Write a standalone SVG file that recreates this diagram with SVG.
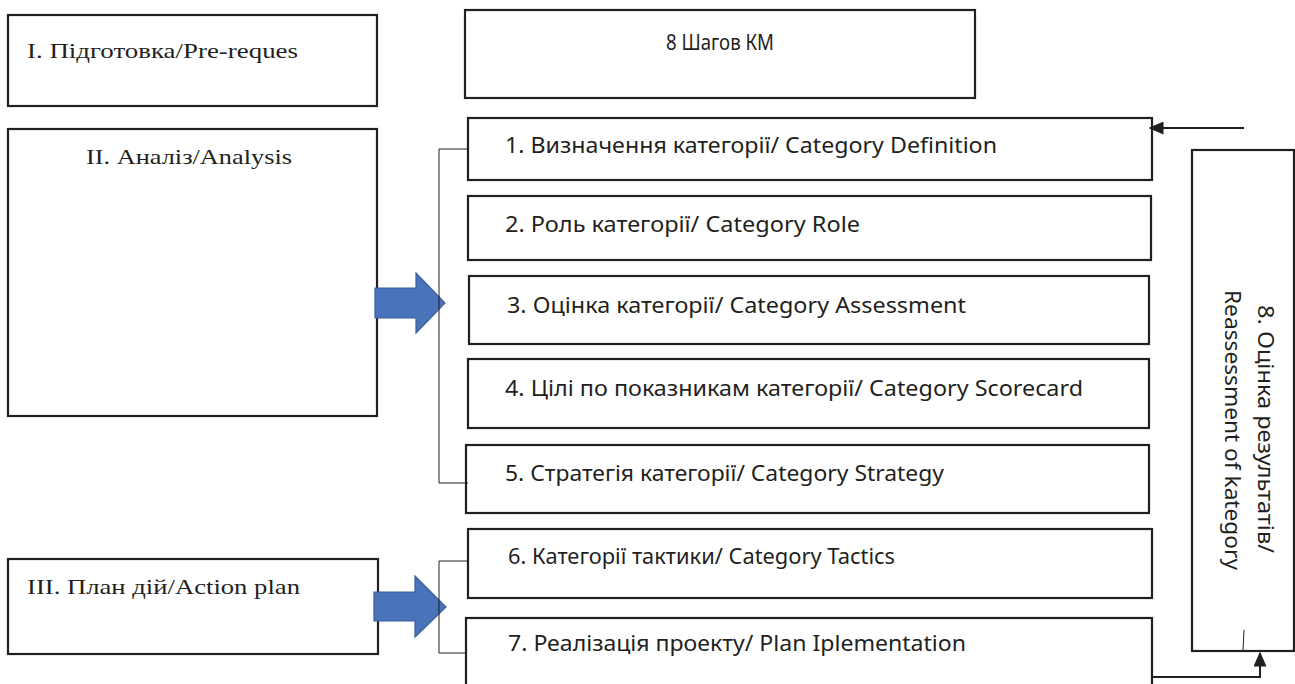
<svg xmlns="http://www.w3.org/2000/svg" width="1295" height="684" viewBox="0 0 1295 684">
<defs>
<style>
.box{fill:#fff;stroke:#231f20;stroke-width:2.2}
.serif{font-family:"Liberation Serif","Times New Roman",serif;font-size:22px;fill:#231f20}
.sans{font-family:"Noto Sans","Open Sans",sans-serif;font-size:21px;fill:#231f20}
.thin{fill:none;stroke:#231f20;stroke-width:1}
.conn{fill:none;stroke:#231f20;stroke-width:2}
.big{fill:#4a74ba;stroke:#3b5e9c;stroke-width:1.2}
</style>
<marker id="ah2" viewBox="0 0 10 10" refX="9" refY="5" markerWidth="15" markerHeight="13" markerUnits="userSpaceOnUse" orient="auto" preserveAspectRatio="none">
<path d="M0,0 L10,5 L0,10 z" fill="#231f20"/>
</marker>
</defs>
<rect width="1295" height="684" fill="#fff"/>

<g id="stage1">
<rect class="box" x="8" y="15" width="369" height="91"/>
<text class="serif" x="27" y="58" textLength="271" lengthAdjust="spacingAndGlyphs">I. Підготовка/Pre-reques</text>
</g>
<g id="title">
<rect class="box" x="465" y="10" width="510" height="88"/>
<text class="sans" x="720" y="50" text-anchor="middle" textLength="108" lengthAdjust="spacingAndGlyphs">8 Шагов КМ</text>
</g>
<g id="stage2">
<rect class="box" x="8" y="129" width="369" height="287"/>
<text class="serif" x="86" y="164" textLength="206" lengthAdjust="spacingAndGlyphs">II. Аналіз/Analysis</text>
</g>
<g id="stage3">
<rect class="box" x="8" y="559" width="370" height="95"/>
<text class="serif" x="27" y="594" textLength="273" lengthAdjust="spacingAndGlyphs">III. План дій/Action plan</text>
</g>

<g id="step1">
<rect class="box" x="468" y="118" width="684" height="62"/>
<text class="sans" x="505" y="153" textLength="492" lengthAdjust="spacingAndGlyphs">1. Визначення категорії/ Category Definition</text>
</g>
<g id="step2">
<rect class="box" x="468" y="196" width="683" height="64"/>
<text class="sans" x="505" y="232" textLength="355" lengthAdjust="spacingAndGlyphs">2. Роль категорії/ Category Role</text>
</g>
<g id="step3">
<rect class="box" x="469" y="276" width="680" height="68"/>
<text class="sans" x="507" y="313" textLength="459" lengthAdjust="spacingAndGlyphs">3. Оцінка категорії/ Category Assessment</text>
</g>
<g id="step4">
<rect class="box" x="468" y="359" width="681" height="69"/>
<text class="sans" x="505" y="396" textLength="578" lengthAdjust="spacingAndGlyphs">4. Цілі по показникам категорії/ Category Scorecard</text>
</g>
<g id="step5">
<rect class="box" x="466" y="445" width="683" height="68"/>
<text class="sans" x="505" y="481" textLength="439" lengthAdjust="spacingAndGlyphs">5. Стратегія категорії/ Category Strategy</text>
</g>
<g id="step6">
<rect class="box" x="468" y="529" width="684" height="69"/>
<text class="sans" x="508" y="564" textLength="387" lengthAdjust="spacingAndGlyphs">6. Категорії тактики/ Category Tactics</text>
</g>
<g id="step7">
<rect class="box" x="466" y="618" width="686" height="80"/>
<text class="sans" x="508" y="651" textLength="458" lengthAdjust="spacingAndGlyphs">7. Реалізація проекту/ Plan Iplementation</text>
</g>
<g id="step8">
<rect class="box" x="1192" y="150" width="102" height="501"/>
<g transform="translate(1258,305) rotate(90)">
<text class="sans" x="0" y="0" textLength="248" lengthAdjust="spacingAndGlyphs">8. Оцінка результатів/</text>
</g>
<g transform="translate(1225,290) rotate(90)">
<text class="sans" x="0" y="0" textLength="280" lengthAdjust="spacingAndGlyphs">Reassessment of kategory</text>
</g>
</g>

<g id="connectors">
<polygon class="big" points="375,288 416,288 416,273 445,303 416,333 416,318 375,318"/>
<polygon class="big" points="374,592 415,592 415,576 446,607 415,637 415,621 374,621"/>
<polyline class="thin" points="468,149 439,149 439,483 468,483"/>
<polyline class="thin" points="468,561 439,561 439,653 466,653"/>
<line class="conn" x1="1244" y1="128" x2="1150" y2="128" marker-end="url(#ah2)"/>
<polyline class="conn" points="1152,677 1260,677 1260,653" marker-end="url(#ah2)"/>
<line class="thin" x1="1244" y1="630" x2="1243" y2="651"/>
</g>
</svg>
